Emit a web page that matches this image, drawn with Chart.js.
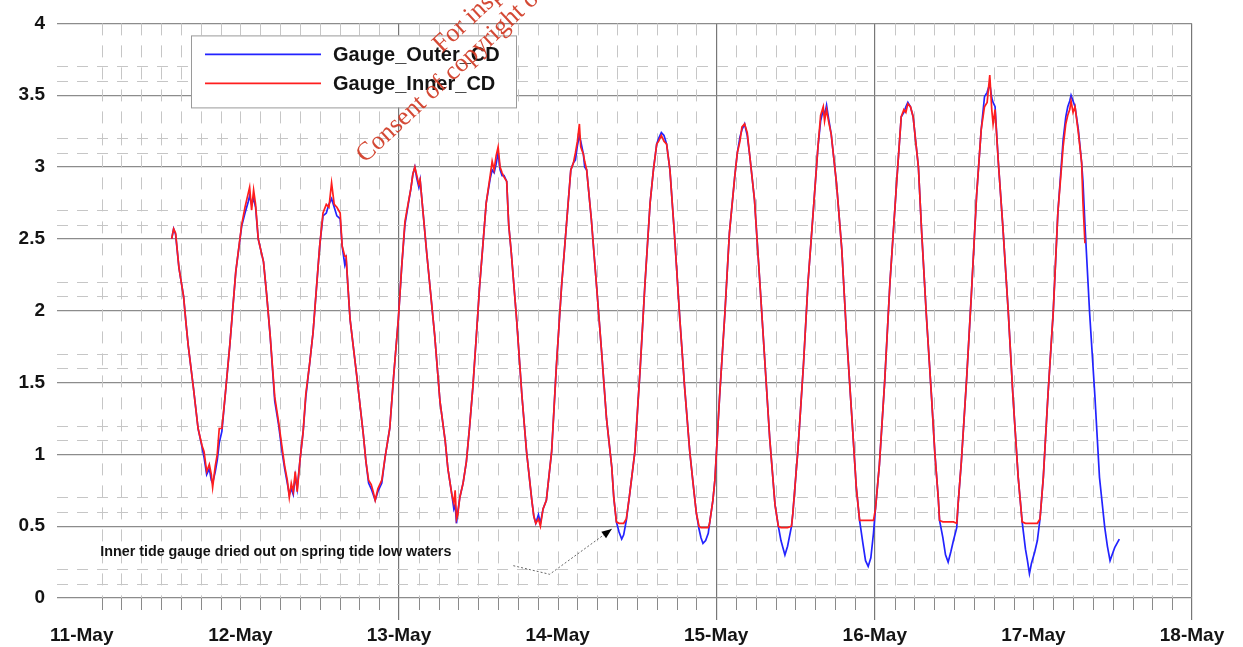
<!DOCTYPE html>
<html>
<head>
<meta charset="utf-8">
<script src="https://cdn.jsdelivr.net/npm/chart.js@4.4.0/dist/chart.umd.min.js"></script>
<style>
html,body{margin:0;padding:0;background:#fff;}
#wrap{width:1243px;height:647px;position:relative;background:#fff;}
</style>
</head>
<body>
<div id="wrap"><canvas id="c" width="1243" height="647"></canvas></div>
<script>
// ---- data (hours since 11-May 00:00) ----
const dayLabels = ['11-May','12-May','13-May','14-May','15-May','16-May','17-May','18-May'];
const dayTickHours = [0,24,48,72,96,120,144,168];
const majorDayHours = [48,96,120,168];
const yTickValues = [0,0.5,1,1.5,2,2.5,3,3.5,4];
const seriesNames = ['Gauge_Outer_CD','Gauge_Inner_CD'];
const annotationText = 'Inner tide gauge dried out on spring tide low waters';
const watermarkLines = ['For inspection purposes only.','Consent of copyright owner required for any other use.'];

const hours = [
  13.6,13.9,14.2,14.7,15.4,15.8,16.1,16.9,17.6,18.2,
  18.5,18.9,19.3,19.6,19.8,20.2,20.5,20.8,21.2,21.7,
  22.4,23.3,24.2,24.7,25.2,25.4,25.7,26.0,26.3,26.7,
  27.5,28.0,28.5,29.2,29.8,30.3,30.7,31.1,31.4,31.7,
  32.0,32.3,32.6,33.0,33.5,33.9,34.5,35.0,35.5,36.0,
  36.5,37.0,37.4,37.8,38.2,38.6,39.1,39.4,39.8,40.0,
  40.3,40.6,41.6,42.6,43.0,43.4,43.8,44.1,44.4,44.8,
  45.4,45.9,46.6,47.2,47.9,48.4,48.9,49.4,49.8,50.1,
  50.4,50.7,51.0,51.2,52.2,53.4,54.2,55.0,55.4,56.0,
  56.3,56.5,56.7,56.9,57.2,57.7,58.2,58.7,59.2,59.7,
  60.2,60.7,61.2,61.8,62.1,62.4,62.7,63.0,63.3,63.6,
  63.9,64.3,64.6,65.0,65.8,66.6,67.3,67.7,68.1,68.4,
  68.7,69.1,69.4,69.8,70.3,70.7,71.1,71.8,72.6,73.6,
  74.0,74.4,74.7,75.0,75.3,75.5,75.9,76.1,76.4,77.1,
  77.9,78.7,79.4,80.2,80.5,80.9,81.3,81.7,82.0,82.4,
  82.9,83.7,84.5,85.2,86.0,86.5,87.0,87.3,87.7,88.1,
  88.5,89.0,89.7,90.5,91.2,92.0,92.5,93.0,93.4,93.7,
  94.0,94.4,94.8,95.0,95.5,95.8,96.5,97.3,98.0,98.8,
  99.2,99.6,99.9,100.3,100.7,101.1,101.8,102.6,103.4,104.1,
  104.9,105.4,105.8,106.4,106.8,107.4,107.6,108.4,109.2,109.9,
  110.7,111.4,111.8,112.2,112.4,112.7,113.0,113.4,114.2,115.0,
  115.7,116.5,117.2,117.7,118.2,118.6,119.0,119.4,119.8,120.1,
  120.7,121.5,122.3,123.3,124.0,124.4,124.7,125.0,125.4,125.8,
  126.6,127.1,127.8,128.6,129.1,129.6,129.8,130.3,130.7,131.1,
  131.5,131.9,132.4,132.6,133.1,133.9,134.6,135.4,136.1,136.6,
  137.0,137.4,137.7,137.9,138.2,138.7,139.4,140.2,140.9,141.7,
  142.3,142.8,143.1,143.4,143.7,144.2,144.6,145.0,145.5,146.2,
  147.0,147.7,148.5,148.9,149.2,149.5,149.7,150.0,150.3,150.8,
  151.3,151.5,151.8,152.5,153.3,154.0,154.8,155.2,155.6,155.9,
  156.3,157.0
];
const outer = [
  2.50,2.57,2.53,2.30,2.10,1.90,1.76,1.46,1.18,1.05,
  0.98,0.86,0.90,0.82,0.80,0.88,0.96,1.08,1.16,1.41,
  1.76,2.27,2.59,2.68,2.76,2.80,2.74,2.78,2.72,2.50,
  2.34,2.10,1.83,1.37,1.20,1.02,0.90,0.80,0.72,0.76,
  0.72,0.85,0.76,0.95,1.16,1.40,1.64,1.85,2.15,2.45,
  2.66,2.68,2.74,2.78,2.72,2.66,2.64,2.45,2.32,2.36,
  2.15,1.94,1.55,1.14,0.95,0.80,0.76,0.72,0.68,0.74,
  0.80,0.98,1.18,1.55,1.94,2.30,2.60,2.74,2.85,2.95,
  3.00,2.92,2.86,2.91,2.40,1.83,1.37,1.09,0.90,0.72,
  0.62,0.65,0.52,0.60,0.70,0.80,0.95,1.20,1.48,1.82,
  2.17,2.46,2.75,2.92,2.98,2.96,3.02,3.10,2.98,2.94,
  2.94,2.90,2.60,2.40,1.94,1.41,1.02,0.85,0.68,0.57,
  0.52,0.58,0.52,0.62,0.68,0.85,1.02,1.60,2.17,2.75,
  2.98,3.03,3.05,3.15,3.22,3.18,3.09,3.00,2.98,2.64,
  2.17,1.69,1.25,0.91,0.70,0.53,0.46,0.41,0.44,0.54,
  0.72,1.02,1.60,2.17,2.75,2.98,3.16,3.20,3.24,3.22,
  3.16,2.98,2.52,1.94,1.48,1.02,0.80,0.59,0.48,0.42,
  0.38,0.40,0.45,0.52,0.68,0.82,1.39,1.97,2.54,2.93,
  3.10,3.21,3.26,3.30,3.22,3.07,2.77,2.20,1.62,1.11,
  0.65,0.50,0.40,0.30,0.36,0.50,0.59,1.05,1.62,2.20,
  2.70,3.14,3.32,3.40,3.36,3.43,3.34,3.23,2.89,2.43,
  1.85,1.28,0.77,0.54,0.38,0.26,0.22,0.28,0.45,0.62,
  0.93,1.51,2.20,2.89,3.35,3.38,3.42,3.45,3.42,3.35,
  3.00,2.54,1.97,1.39,1.00,0.70,0.54,0.42,0.30,0.25,
  0.32,0.40,0.49,0.65,0.95,1.53,2.10,2.80,3.26,3.49,
  3.52,3.58,3.48,3.45,3.42,3.03,2.57,1.99,1.41,0.84,
  0.53,0.34,0.26,0.17,0.24,0.32,0.40,0.55,0.84,1.41,
  1.99,2.68,3.19,3.35,3.42,3.46,3.50,3.46,3.42,3.26,
  3.03,2.90,2.60,1.99,1.41,0.84,0.49,0.36,0.26,0.30,
  0.35,0.41
];
const inner = [
  2.50,2.57,2.54,2.30,2.10,1.90,1.76,1.46,1.18,1.06,
  1.02,0.88,0.93,0.86,0.77,0.92,1.00,1.18,1.18,1.41,
  1.76,2.27,2.60,2.72,2.82,2.86,2.70,2.84,2.74,2.50,
  2.34,2.10,1.83,1.40,1.22,1.05,0.92,0.82,0.70,0.80,
  0.74,0.88,0.74,0.95,1.16,1.42,1.64,1.85,2.15,2.45,
  2.68,2.74,2.72,2.89,2.74,2.72,2.68,2.45,2.38,2.38,
  2.15,1.94,1.55,1.14,0.95,0.82,0.79,0.74,0.68,0.76,
  0.82,0.98,1.18,1.55,1.94,2.30,2.62,2.75,2.85,2.95,
  3.00,2.94,2.88,2.91,2.40,1.83,1.37,1.09,0.90,0.72,
  0.66,0.75,0.55,0.58,0.70,0.80,0.95,1.20,1.48,1.82,
  2.17,2.46,2.75,2.94,3.04,2.98,3.08,3.14,3.00,2.96,
  2.93,2.90,2.60,2.40,1.94,1.41,1.02,0.85,0.68,0.57,
  0.52,0.55,0.50,0.62,0.68,0.85,1.02,1.60,2.17,2.75,
  2.98,3.03,3.10,3.18,3.30,3.14,3.09,3.04,2.98,2.64,
  2.17,1.69,1.25,0.91,0.70,0.53,0.52,0.52,0.52,0.55,
  0.72,1.02,1.60,2.17,2.75,2.98,3.16,3.18,3.22,3.18,
  3.16,2.98,2.52,1.94,1.48,1.02,0.80,0.59,0.50,0.49,
  0.49,0.49,0.49,0.52,0.68,0.82,1.39,1.97,2.54,2.93,
  3.10,3.18,3.28,3.30,3.24,3.07,2.77,2.20,1.62,1.11,
  0.65,0.50,0.49,0.49,0.49,0.50,0.59,1.05,1.62,2.20,
  2.70,3.14,3.36,3.42,3.32,3.40,3.32,3.23,2.89,2.43,
  1.85,1.28,0.77,0.54,0.54,0.54,0.54,0.54,0.54,0.62,
  0.93,1.51,2.20,2.89,3.35,3.40,3.38,3.44,3.42,3.35,
  3.00,2.54,1.97,1.39,1.00,0.70,0.54,0.53,0.53,0.53,
  0.53,0.53,0.52,0.65,0.95,1.53,2.10,2.80,3.26,3.42,
  3.45,3.64,3.40,3.30,3.40,3.03,2.57,1.99,1.41,0.84,
  0.53,0.52,0.52,0.52,0.52,0.52,0.52,0.55,0.84,1.41,
  1.99,2.68,3.14,3.30,3.36,3.40,3.46,3.38,3.42,3.24,
  3.03,2.75,2.47,null,null,null,null,null,null,null,
  null,null
];
// annotation anchor and leader path, in data units (hours, level)
const annotationAnchor = [2.8, 0.32];
const annotationPath = [[65.3,0.225],[70.8,0.165],[80.2,0.48]];

// ---- chart ----
const FONT = '"Liberation Sans", Arial, Helvetica, sans-serif';
const extras = {
  id: 'extras',
  beforeDatasetsDraw(chart) {
    const {ctx, chartArea: a, scales: {x, y}} = chart;
    ctx.save();
    ctx.lineWidth = 1;
    ctx.strokeStyle = '#c6c6c6';
    ctx.setLineDash([11, 9]);
    for (let k = 1; k < 40; k++) {
      const r = k % 5;
      if (r !== 1 && r !== 2) continue;
      const py = Math.round(y.getPixelForValue(k / 10)) + 0.5;
      ctx.beginPath(); ctx.moveTo(a.left, py); ctx.lineTo(a.right, py); ctx.stroke();
    }
    ctx.setLineDash([12, 10]);
    for (let h = 3; h < 168; h += 3) {
      if (majorDayHours.includes(h)) continue;
      const px = Math.round(x.getPixelForValue(h)) + 0.5;
      ctx.beginPath(); ctx.moveTo(px, a.top); ctx.lineTo(px, a.bottom); ctx.stroke();
    }
    ctx.setLineDash([]);
    ctx.strokeStyle = '#8a8a8a';
    for (let h = 3; h < 168; h += 3) {
      if (majorDayHours.includes(h)) continue;
      const px = Math.round(x.getPixelForValue(h)) + 0.5;
      ctx.beginPath(); ctx.moveTo(px, a.bottom); ctx.lineTo(px, a.bottom + 12); ctx.stroke();
    }
    ctx.restore();
  },
  afterDatasetsDraw(chart) {
    const {ctx, chartArea: a, scales: {x, y}} = chart;
    ctx.save();
    // legend
    const lx = a.left + 134, ly = a.top + 12, lw = 325, lh = 72;
    ctx.fillStyle = '#fff';
    ctx.fillRect(lx, ly, lw, lh);
    ctx.strokeStyle = '#9a9a9a'; ctx.lineWidth = 1;
    ctx.strokeRect(lx + 0.5, ly + 0.5, lw, lh);
    chart.data.datasets.forEach((ds, i) => {
      const yy = ly + 19 + i * 29;
      ctx.strokeStyle = ds.borderColor; ctx.lineWidth = 1.7;
      ctx.beginPath(); ctx.moveTo(lx + 14, yy); ctx.lineTo(lx + 130, yy); ctx.stroke();
      ctx.fillStyle = '#141414';
      ctx.font = 'bold 20px ' + FONT;
      ctx.textBaseline = 'middle'; ctx.textAlign = 'left';
      ctx.fillText(ds.label, lx + 142, yy + 1);
    });
    // annotation
    ctx.fillStyle = '#141414';
    ctx.font = 'bold 14.3px ' + FONT;
    ctx.textBaseline = 'middle'; ctx.textAlign = 'left';
    ctx.fillText(annotationText, x.getPixelForValue(annotationAnchor[0]), y.getPixelForValue(annotationAnchor[1]));
    const pts = annotationPath.map(p => [x.getPixelForValue(p[0]), y.getPixelForValue(p[1])]);
    ctx.strokeStyle = '#666'; ctx.lineWidth = 1; ctx.setLineDash([2, 2]);
    ctx.beginPath();
    pts.forEach((p, i) => i ? ctx.lineTo(p[0], p[1]) : ctx.moveTo(p[0], p[1]));
    ctx.stroke();
    ctx.setLineDash([]);
    const [p1, p2] = [pts[pts.length - 2], pts[pts.length - 1]];
    const dx = p2[0] - p1[0], dy = p2[1] - p1[1], L = Math.hypot(dx, dy);
    const ux = dx / L, uy = dy / L;
    ctx.fillStyle = '#000';
    ctx.beginPath();
    ctx.moveTo(p2[0], p2[1]);
    ctx.lineTo(p2[0] - 10 * ux - 4 * uy, p2[1] - 10 * uy + 4 * ux);
    ctx.lineTo(p2[0] - 10 * ux + 4 * uy, p2[1] - 10 * uy - 4 * ux);
    ctx.closePath(); ctx.fill();
    ctx.restore();
  },
  afterDraw(chart) {
    const {ctx, chartArea: a} = chart;
    ctx.save();
    ctx.fillStyle = 'rgba(208,58,36,0.92)';
    ctx.font = '26px "Liberation Serif", "DejaVu Serif", "Times New Roman", serif';
    ctx.textBaseline = 'alphabetic'; ctx.textAlign = 'left';
    ctx.translate(a.left + 308, a.top + 140);
    ctx.rotate(-43 * Math.PI / 180);
    ctx.fillText(watermarkLines[1], 0, 0);
    ctx.fillText(watermarkLines[0], 131, -28);
    ctx.restore();
  }
};

new Chart(document.getElementById('c'), {
  type: 'line',
  data: {
    datasets: [
      {label: seriesNames[0], data: hours.map((h, i) => ({x: h, y: outer[i]})),
       borderColor: 'rgb(35,35,255)', borderWidth: 1.7, pointRadius: 0, tension: 0, fill: false, order: 2},
      {label: seriesNames[1], data: hours.map((h, i) => ({x: h, y: inner[i]})),
       borderColor: 'rgb(255,30,30)', borderWidth: 1.7, pointRadius: 0, tension: 0, fill: false, order: 1, spanGaps: false}
    ]
  },
  options: {
    responsive: false,
    devicePixelRatio: 1,
    animation: false,
    parsing: true,
    layout: {padding: {top: 19, right: 51, left: 0, bottom: 0}},
    plugins: {legend: {display: false}, tooltip: {enabled: false}},
    scales: {
      x: {
        type: 'linear', min: -3.75, max: 168,
        afterBuildTicks: s => { s.ticks = dayTickHours.map(v => ({value: v})); },
        afterFit: s => { s.height = 49; },
        border: {display: false},
        grid: {
          color: c => majorDayHours.includes(c.tick && c.tick.value) ? '#777' : 'rgba(0,0,0,0)',
          tickColor: c => majorDayHours.includes(c.tick && c.tick.value) ? '#777' : 'rgba(0,0,0,0)',
          lineWidth: 1.2, tickLength: 22, drawTicks: true
        },
        ticks: {
          autoSkip: false, maxRotation: 0, minRotation: 0, padding: 4,
          color: '#141414', font: {family: FONT, size: 19, weight: 'bold'},
          callback: v => { const i = dayTickHours.indexOf(v); return i >= 0 ? dayLabels[i] : ''; }
        }
      },
      y: {
        type: 'linear', min: 0, max: 4,
        afterBuildTicks: s => { s.ticks = yTickValues.map(v => ({value: v})); },
        afterFit: s => { s.width = 57; },
        border: {display: false},
        grid: {color: '#8c8c8c', lineWidth: 1.3, drawTicks: false, tickLength: 0},
        ticks: {
          padding: 12, color: '#141414', font: {family: FONT, size: 19, weight: 'bold'},
          callback: v => String(v)
        }
      }
    }
  },
  plugins: [extras]
});
</script>
</body>
</html>
